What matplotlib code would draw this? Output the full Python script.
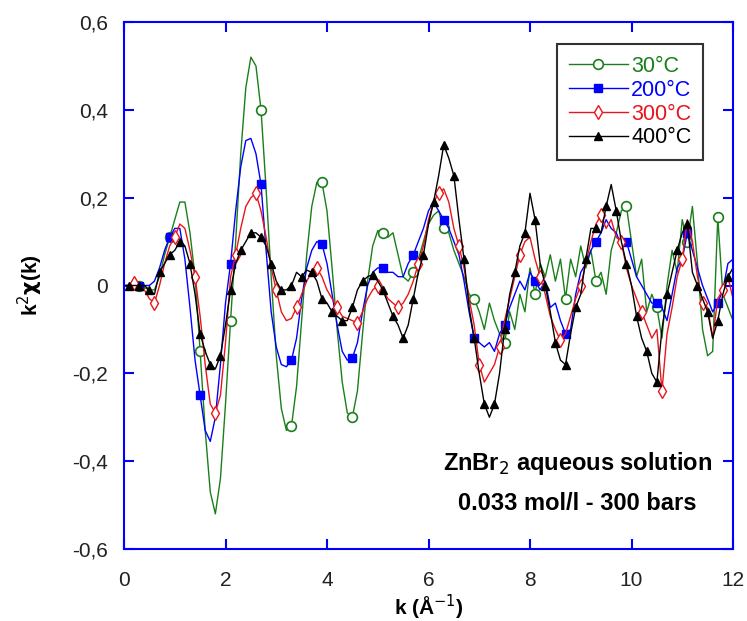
import numpy as np
import matplotlib
matplotlib.use("Agg")
import matplotlib.pyplot as plt
from matplotlib.ticker import FuncFormatter

plt.rcParams['font.family'] = ['Liberation Sans', 'DejaVu Sans']

# k grid (A^-1), step 0.1
k = np.round(np.arange(121) * 0.1, 1)

chi_30 = [0.0, 0.0, 0.0, 0.0, -0.005, -0.01, -0.01, 0.02, 0.07, 0.11,
          0.15, 0.19, 0.19, 0.12, 0.02, -0.15, -0.33, -0.47, -0.52, -0.44,
          -0.27, -0.08, 0.10, 0.30, 0.45, 0.52, 0.50, 0.40, 0.22, 0.02,
          -0.16, -0.28, -0.33, -0.32, -0.23, -0.08, 0.07, 0.18, 0.235, 0.235,
          0.17, 0.04, -0.10, -0.22, -0.29, -0.30, -0.24, -0.11, 0.01, 0.09,
          0.125, 0.12, 0.11, 0.12, 0.07, 0.02, 0.01, 0.03, 0.06, 0.10,
          0.14, 0.16, 0.17, 0.13, 0.12, 0.08, 0.05, 0.02, -0.02, -0.03,
          -0.06, -0.10, -0.04, -0.08, -0.11, -0.13, -0.06, -0.10, -0.02, -0.06,
          0.04, -0.02, 0.05, 0.02, 0.07, 0.01, 0.06, -0.03, 0.06, 0.02,
          0.09, 0.04, 0.08, 0.01, 0.03, -0.02, 0.08, 0.12, 0.17, 0.18,
          0.10, 0.02, 0.06, -0.06, -0.02, -0.05, -0.12, 0.0, 0.08, 0.03,
          0.15, 0.10, 0.18, 0.05, -0.10, -0.16, -0.15, 0.155, -0.02, -0.05,
          -0.08]

chi_200 = [0.0, 0.0, 0.0, 0.0, 0.0, 0.0, 0.01, 0.04, 0.08, 0.11,
           0.13, 0.13, 0.06, -0.05, -0.17, -0.25, -0.33, -0.355, -0.30, -0.18,
           -0.04, 0.05, 0.17, 0.27, 0.33, 0.335, 0.30, 0.23, 0.08, -0.06,
           -0.14, -0.18, -0.185, -0.17, -0.12, -0.03, 0.04, 0.08, 0.10, 0.095,
           0.05, -0.02, -0.09, -0.15, -0.17, -0.165, -0.13, -0.06, 0.0, 0.03,
           0.04, 0.04, 0.03, 0.03, 0.02, 0.02, 0.05, 0.07, 0.10, 0.13,
           0.17, 0.19, 0.17, 0.15, 0.13, 0.10, 0.07, 0.01, -0.06, -0.12,
           -0.13, -0.14, -0.13, -0.15, -0.11, -0.09, -0.05, -0.02, 0.01, -0.01,
           0.03, 0.01, -0.01, 0.01, -0.05, -0.04, -0.08, -0.11, -0.10, -0.02,
           0.03, 0.05, 0.08, 0.10, 0.12, 0.15, 0.13, 0.12, 0.09, 0.10,
           0.06, 0.02, 0.0, -0.02, -0.04, -0.04, -0.05, -0.08, -0.02, 0.04,
           0.06, 0.12, 0.08, 0.04, 0.0, -0.03, -0.06, -0.04, -0.01, 0.05,
           0.06]

chi_300 = [0.0, 0.0, 0.005, 0.0, -0.01, -0.03, -0.04, 0.0, 0.05, 0.09,
           0.11, 0.14, 0.13, 0.08, 0.02, -0.07, -0.18, -0.27, -0.29, -0.25,
           -0.13, 0.02, 0.07, 0.13, 0.18, 0.20, 0.21, 0.17, 0.11, 0.04,
           -0.01, -0.06, -0.08, -0.075, -0.05, -0.02, 0.01, 0.03, 0.04, 0.02,
           -0.01, -0.03, -0.05, -0.07, -0.075, -0.08, -0.085, -0.06, -0.03, -0.01,
           0.0, -0.01, -0.03, -0.04, -0.05, -0.04, -0.02, 0.01, 0.05, 0.09,
           0.15, 0.19, 0.21, 0.22, 0.19, 0.13, 0.09, 0.04, -0.03, -0.09,
           -0.18, -0.22, -0.20, -0.18, -0.14, -0.08, -0.03, 0.02, 0.07, 0.10,
           0.11, 0.06, 0.02, -0.02, -0.07, -0.10, -0.125, -0.11, -0.07, -0.03,
           0.0, 0.05, 0.10, 0.14, 0.16, 0.13, 0.15, 0.11, 0.10, 0.04,
           0.0, -0.03, -0.06, -0.09, -0.12, -0.10, -0.24, -0.11, -0.05, 0.02,
           0.06, 0.15, 0.10, 0.02, -0.04, -0.05, -0.12, -0.03, -0.01, 0.02,
           -0.03]

chi_400 = [0.0, 0.0, 0.0, 0.0, 0.0, -0.01, -0.02, 0.03, 0.05, 0.07,
           0.08, 0.10, 0.09, 0.05, -0.02, -0.11, -0.15, -0.18, -0.19, -0.16,
           -0.09, -0.01, 0.05, 0.08, 0.10, 0.12, 0.12, 0.11, 0.09, 0.05,
           0.01, -0.01, -0.01, 0.0, 0.03, 0.02, 0.035, 0.03, 0.01, -0.03,
           -0.04, -0.06, -0.07, -0.08, -0.08, -0.05, -0.01, 0.01, 0.02, 0.025,
           0.01, -0.01, -0.04, -0.07, -0.09, -0.12, -0.09, -0.03, 0.03, 0.07,
           0.14, 0.19, 0.25, 0.32, 0.29, 0.25, 0.15, 0.06, -0.05, -0.12,
           -0.20, -0.27, -0.30, -0.27, -0.20, -0.10, -0.02, 0.03, 0.09, 0.12,
           0.21, 0.15, 0.05, 0.0, -0.06, -0.13, -0.17, -0.18, -0.11, -0.05,
           -0.02, 0.06, 0.13, 0.13, 0.12, 0.18, 0.23, 0.17, 0.10, 0.05,
           0.0, -0.07, -0.12, -0.15, -0.20, -0.22, -0.10, -0.02, 0.03, 0.08,
           0.12, 0.14, 0.03, 0.0, -0.03, -0.06, -0.12, -0.08, -0.02, 0.02,
           0.04]

labels = ["30°C", "200°C", "300°C", "400°C"]
colors = ["#1a7f1a", "#0000ff", "#e8161b", "#000000"]

fig = plt.figure(figsize=(7.47, 6.21), dpi=100)
ax = fig.add_axes([124 / 747, 1 - 549 / 621, (733 - 124) / 747, (549 - 22) / 621])

ax.plot(k, chi_30, color=colors[0], lw=1.0, marker='o', ms=7, mfc='white',
        mec=colors[0], mew=1.2, markevery=(3, 6), label=labels[0])
ax.plot(k, chi_200, color=colors[1], lw=1.0, marker='s', ms=6, mfc=colors[1],
        mec=colors[1], markevery=(3, 6), label=labels[1])
ax.plot(k, chi_300, color=colors[2], lw=1.0, marker='d', ms=7, mfc='white',
        mec=colors[2], mew=1.0, markevery=(2, 4), label=labels[2])
ax.plot(k, chi_400, color=colors[3], lw=1.0, marker='^', ms=5.5, mfc=colors[3],
        mec=colors[3], markevery=(1, 2), label=labels[3])

ax.set_xlim(0, 12)
ax.set_ylim(-0.6, 0.6)
ax.set_xticks([0, 2, 4, 6, 8, 10, 12])
ax.set_yticks([-0.6, -0.4, -0.2, 0, 0.2, 0.4, 0.6])


def comma(v, pos):
    if abs(v) < 1e-9:
        return "0"
    return ("%.1f" % v).replace(".", ",")


ax.yaxis.set_major_formatter(FuncFormatter(comma))

for sp in ax.spines.values():
    sp.set_color("#0000ff")
    sp.set_linewidth(1.5)
ax.tick_params(direction='in', length=7, width=1.5, color="#0000ff",
               top=True, right=True, labelsize=15, labelcolor="#222222")
ax.tick_params(axis='x', pad=16)
ax.tick_params(axis='y', pad=11.5)

ax.set_xlabel("k (Å$^{-1}$)", fontsize=15, fontweight='bold')
ax.xaxis.set_label_coords(0.5, -0.083)
ax.set_ylabel(r"k$^2$$\mathbf{\chi}$(k)", fontsize=15, fontweight='bold')
ax.yaxis.set_label_coords(-0.13, 0.5)

ax.text(0.745, 0.163, "ZnBr$_2$ aqueous solution", transform=ax.transAxes,
        ha='center', va='center', fontsize=17, fontweight='bold')
ax.text(0.745, 0.087, "0.033 mol/l - 300 bars", transform=ax.transAxes,
        ha='center', va='center', fontsize=17, fontweight='bold')

leg = ax.legend(loc='upper right', bbox_to_anchor=(0.951, 0.958), numpoints=1,
                fontsize=15.5, handlelength=2.75, labelspacing=0.13,
                fancybox=False, borderpad=0.55, handletextpad=0.15, borderaxespad=0)
leg.get_frame().set_edgecolor("black")
leg.get_frame().set_linewidth(1.5)
for txt, c in zip(leg.get_texts(), colors):
    txt.set_color(c)

fig.savefig("out.png", dpi=100)
